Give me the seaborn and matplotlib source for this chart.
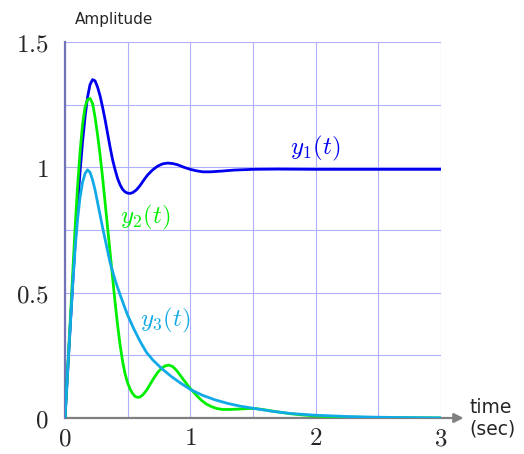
import numpy as np
import pandas as pd
import seaborn as sns
import matplotlib.pyplot as plt

# --- values ---
t1 = [0, 0.02, 0.04, 0.06, 0.08, 0.10, 0.12, 0.14, 0.16, 0.18, 0.20, 0.22, 0.24, 0.26,
      0.28, 0.30, 0.32, 0.34, 0.36, 0.38, 0.40, 0.42, 0.44, 0.46, 0.48, 0.50, 0.52, 0.54,
      0.57, 0.60, 0.63, 0.66, 0.70, 0.74, 0.78, 0.82, 0.86, 0.90, 0.95, 1.0, 1.05, 1.10,
      1.16, 1.25, 1.35, 1.5, 1.7, 2.0, 3.0]
y1 = [0, 0.17, 0.35, 0.52, 0.69, 0.84, 0.98, 1.10, 1.20, 1.28, 1.33, 1.35, 1.345, 1.32,
      1.285, 1.24, 1.19, 1.135, 1.08, 1.03, 0.99, 0.955, 0.93, 0.912, 0.902, 0.897, 0.896,
      0.899, 0.91, 0.928, 0.95, 0.97, 0.99, 1.005, 1.014, 1.017, 1.015, 1.01, 1.0, 0.992,
      0.986, 0.982, 0.982, 0.985, 0.989, 0.992, 0.993, 0.992, 0.992]

t2 = [0, 0.02, 0.04, 0.06, 0.08, 0.10, 0.12, 0.14, 0.16, 0.18, 0.20, 0.22, 0.24, 0.26,
      0.28, 0.30, 0.32, 0.34, 0.36, 0.38, 0.40, 0.42, 0.44, 0.46, 0.48, 0.50, 0.52, 0.54,
      0.56, 0.58, 0.60, 0.62, 0.65, 0.68, 0.71, 0.74, 0.77, 0.80, 0.83, 0.86, 0.89, 0.92,
      0.95, 0.98, 1.01, 1.05, 1.09, 1.13, 1.17, 1.21, 1.26, 1.32, 1.4, 1.47, 1.53, 1.6,
      1.7, 1.8, 1.9, 2.0, 2.2, 2.5, 3.0]
y2 = [0, 0.18, 0.37, 0.56, 0.75, 0.92, 1.06, 1.17, 1.24, 1.27, 1.275, 1.255, 1.2, 1.13,
      1.05, 0.96, 0.86, 0.76, 0.66, 0.56, 0.46, 0.37, 0.29, 0.225, 0.175, 0.14, 0.115,
      0.097, 0.086, 0.082, 0.084, 0.092, 0.11, 0.135, 0.16, 0.182, 0.198, 0.208, 0.211,
      0.205, 0.19, 0.17, 0.15, 0.13, 0.112, 0.09, 0.07, 0.055, 0.045, 0.038, 0.034, 0.034,
      0.036, 0.038, 0.037, 0.032, 0.024, 0.017, 0.012, 0.008, 0.004, 0.0015, 0.0]

t3 = [0, 0.02, 0.04, 0.06, 0.08, 0.10, 0.12, 0.14, 0.16, 0.18, 0.20, 0.22, 0.24, 0.26,
      0.28, 0.30, 0.33, 0.36, 0.40, 0.434, 0.47, 0.50, 0.55, 0.60, 0.65, 0.70, 0.77, 0.85,
      0.92, 1.0, 1.1, 1.2, 1.3, 1.4, 1.5, 1.65, 1.8, 2.0, 2.25, 2.5, 2.75, 3.0]
y3 = [0, 0.18, 0.35, 0.52, 0.67, 0.79, 0.88, 0.94, 0.975, 0.99, 0.98, 0.95, 0.91, 0.86,
      0.81, 0.76, 0.69, 0.62, 0.55, 0.5, 0.45, 0.41, 0.355, 0.305, 0.262, 0.232, 0.198,
      0.165, 0.14, 0.114, 0.09, 0.072, 0.058, 0.047, 0.039, 0.027, 0.018, 0.011, 0.006,
      0.003, 0.0015, 0.0005]

colors = {'y1': '#0000ee', 'y2': '#00ee00', 'y3': '#12aae6'}

df = pd.concat([
    pd.DataFrame({'t': t1, 'y': y1, 'curve': 'y1'}),
    pd.DataFrame({'t': t2, 'y': y2, 'curve': 'y2'}),
    pd.DataFrame({'t': t3, 'y': y3, 'curve': 'y3'}),
])

sns.set_style("white")
plt.rcParams['font.family'] = ['DejaVu Sans']
plt.rcParams['mathtext.fontset'] = 'cm'

fig = plt.figure(figsize=(5.24, 4.54), dpi=100)
ax = fig.add_axes([0.124, 0.0793, 0.7176, 0.8282])

sns.lineplot(data=df, x='t', y='y', hue='curve', palette=colors, sort=False,
             estimator=None, linewidth=2, legend=False, ax=ax, zorder=3)
ax.set_xlabel('')
ax.set_ylabel('')

ax.set_xlim(0, 3)
ax.set_ylim(0, 1.5)

# grid
ax.set_xticks(np.arange(0.5, 3.01, 0.5), minor=True)
ax.set_yticks(np.arange(0.25, 1.51, 0.25), minor=True)
ax.grid(True, which='both', color='#b0b0ff', linewidth=0.8, zorder=0)
ax.set_axisbelow(True)

ax.set_xticks([0, 1, 2, 3])
ax.set_xticklabels(['$0$', '$1$', '$2$', '$3$'], fontsize=18)
ax.set_yticks([0, 0.5, 1, 1.5])
ax.set_yticklabels(['$0$', '$0.5$', '$1$', '$1.5$'], fontsize=18)
ax.tick_params(axis='y', which='major', direction='out', length=4, width=0.8,
               color='black', pad=8)
ax.tick_params(axis='x', which='major', direction='out', length=4, width=0.8,
               color='black', pad=2)
ax.tick_params(axis='both', which='minor', length=0)

for s in ['top', 'right', 'bottom']:
    ax.spines[s].set_visible(False)
ax.spines['left'].set_color('#7373b8')
ax.spines['left'].set_linewidth(1.6)

# x axis arrow
ax.annotate('', xy=(3.18, 0), xytext=(0, 0), xycoords='data', annotation_clip=False,
            arrowprops=dict(arrowstyle='-|>', color='#808080', lw=1.6,
                            mutation_scale=14, shrinkA=0, shrinkB=0), zorder=2)

ax.text(0.08, 1.59, 'Amplitude', fontsize=11, ha='left', va='center')
ax.text(3.23, 0.0, 'time\n(sec)', fontsize=13.5, ha='left', va='center', linespacing=1.15)

ax.text(2.0, 1.075, '$y_1(t)$', color=colors['y1'], fontsize=18, ha='center', va='center')
ax.text(0.64, 0.80, '$y_2(t)$', color=colors['y2'], fontsize=18, ha='center', va='center')
ax.text(0.80, 0.39, '$y_3(t)$', color=colors['y3'], fontsize=18, ha='center', va='center')

fig.savefig('out.png', dpi=100)
